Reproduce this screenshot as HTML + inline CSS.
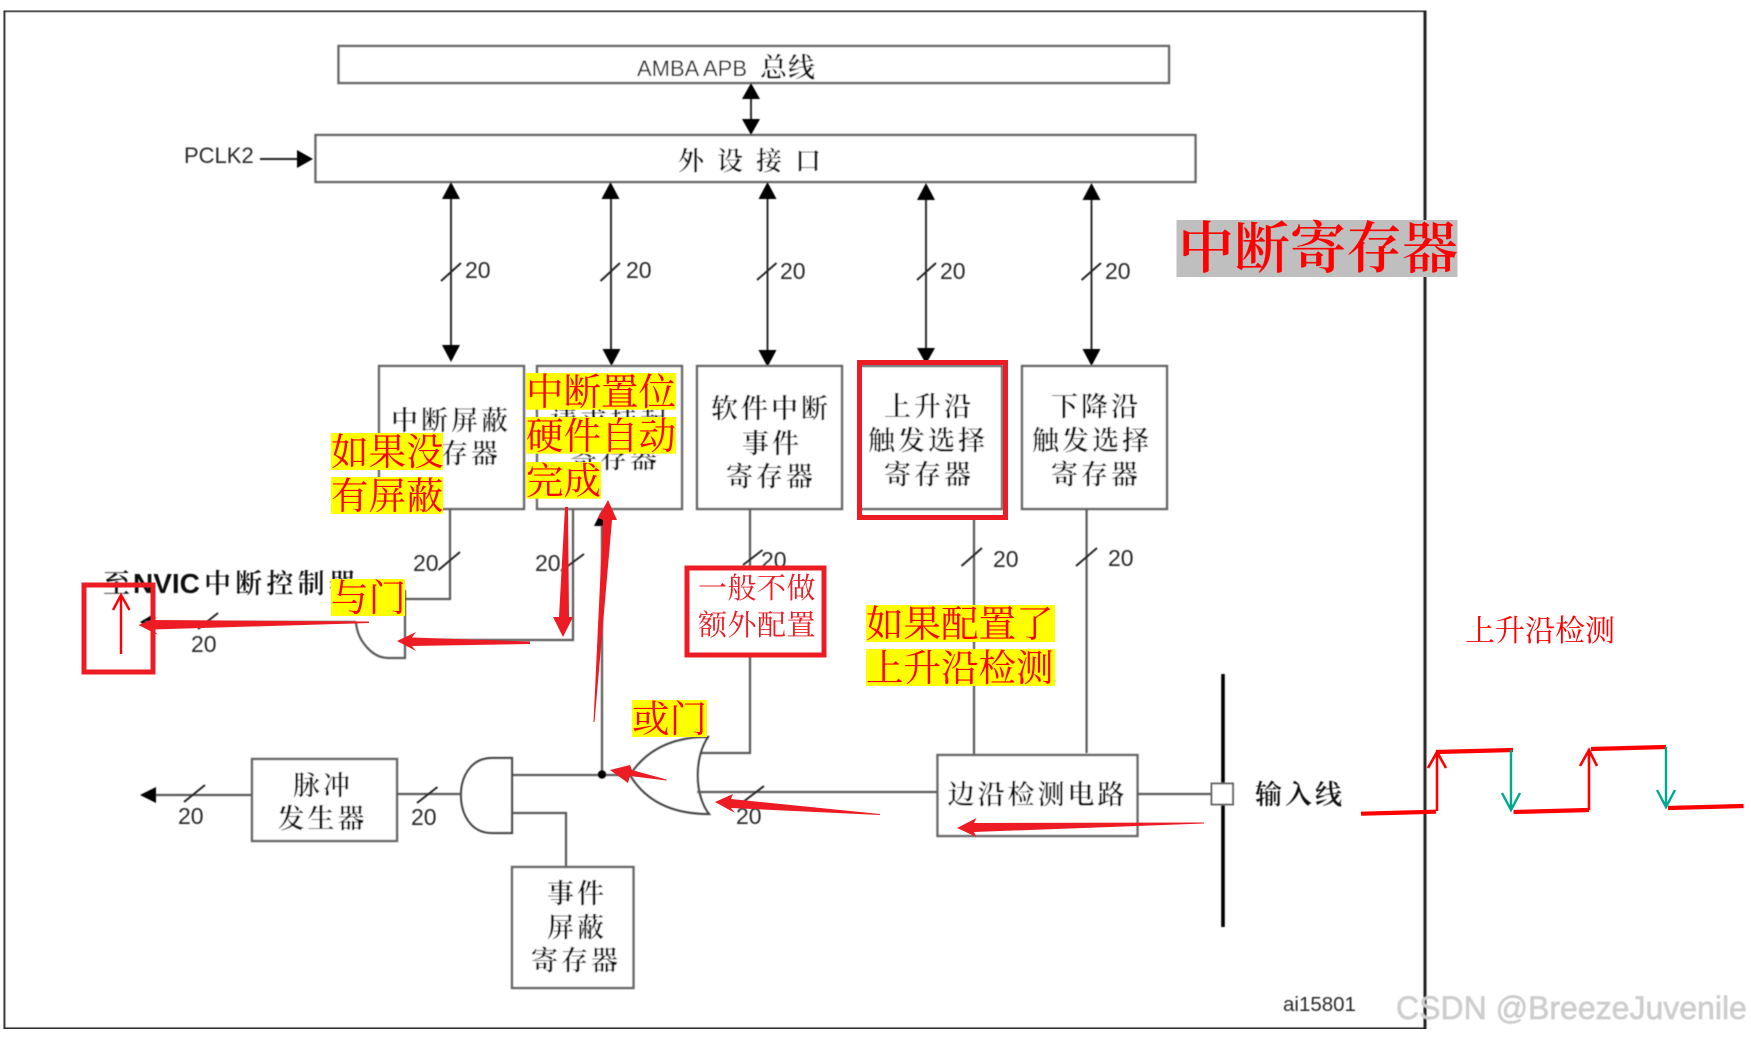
<!DOCTYPE html>
<html><head><meta charset="utf-8">
<style>
html,body{margin:0;padding:0;background:#fff;width:1751px;height:1037px;overflow:hidden}
svg{display:block}
.l{font-family:"Liberation Sans",sans-serif;fill:#2a2a2a}
.c{font-family:"Liberation Serif","Noto Serif CJK SC",serif;fill:#111;font-size:27px;letter-spacing:3px;font-weight:600}
.y{font-family:"Liberation Serif","Noto Serif CJK SC",serif;fill:#f00;font-size:37.5px}
.n{font-family:"Liberation Sans",sans-serif;fill:#2a2a2a;font-size:23px}
.b{fill:#fff;stroke:#666;stroke-width:2.4}
.w{fill:none;stroke:#5a5a5a;stroke-width:2.2}
.s{fill:none;stroke:#222;stroke-width:1.9}
.h{fill:#000}
.r{fill:#ed1c24}
</style></head><body>
<svg width="1751" height="1037" viewBox="0 0 1751 1037" xmlns="http://www.w3.org/2000/svg">
<rect width="1751" height="1037" fill="#fff"/>
<g filter="url(#bl)">
<defs><filter id="bl" x="0" y="0" width="100%" height="100%"><feGaussianBlur stdDeviation="0.45"/></filter></defs>
<!-- frame -->
<path d="M3.800 1029V10.5H1425V1029Z" fill="none" stroke="#222" stroke-width="3"/>
<!-- top bars -->
<rect class="b" x="338.5" y="46" width="830.5" height="37"/>
<text class="l" x="637" y="76" font-size="22" textLength="110" lengthAdjust="spacingAndGlyphs">AMBA APB</text>
<text class="c" x="760" y="77" style="letter-spacing:1px">总线</text>
<rect class="b" x="315.5" y="135" width="880" height="47"/>
<text class="c" x="678" y="170" style="font-size:26px;letter-spacing:13px">外设接口</text>
<text class="l" x="184" y="163" font-size="22">PCLK2</text>
<path class="s" d="M260 159H298"/>
<path class="h" d="M297 150L313 159L297 168Z"/>
<!-- bus arrows -->
<path class="s" d="M751 95V122"/>
<path class="h" d="M751 83L760 99H742ZM751 135L760 119H742Z"/>
<path class="s" d="M451 190V350M611 190V352M767.5 190V352M926 190V352M1091.5 190V352"/>
<path class="h" d="M451 182L460 199H442ZM451 362L460 345H442ZM610.5 182L619.5 199H601.5ZM611.5 366L620.5 349H602.5ZM767.5 182L776.5 199H758.5ZM767.5 367L776.5 350H758.5ZM926 183L935 200H917ZM926 364L935 348H917ZM1091.5 183L1100.5 200H1082.5ZM1091.5 366L1100.5 349H1082.5Z"/>
<path class="s" d="M441 281L461 263M600.5 281L620 263M757 280L776.5 263M917 280L936 263M1081.6 280L1101 263"/>
<text class="n" x="465" y="278">20</text>
<text class="n" x="626" y="278">20</text>
<text class="n" x="780" y="279">20</text>
<text class="n" x="940" y="279">20</text>
<text class="n" x="1105" y="279">20</text>
<!-- register boxes -->
<rect class="b" x="379" y="366" width="145" height="143"/>
<rect class="b" x="537" y="366" width="145" height="143"/>
<rect class="b" x="697" y="366" width="145" height="143"/>
<rect class="b" x="859" y="366" width="143" height="143"/>
<rect class="b" x="1022" y="366" width="145" height="143"/>
<text class="c" x="391" y="430">中断屏蔽</text>
<text class="c" x="411" y="463">寄存器</text>
<text class="c" x="550" y="430">请求挂起</text>
<text class="c" x="570" y="468">寄存器</text>
<text class="c" x="711" y="418">软件中断</text>
<text class="c" x="742" y="453">事件</text>
<text class="c" x="726" y="486">寄存器</text>
<text class="c" x="884" y="416">上升沿</text>
<text class="c" x="868" y="450">触发选择</text>
<text class="c" x="884" y="484">寄存器</text>
<text class="c" x="1051" y="416">下降沿</text>
<text class="c" x="1032" y="450">触发选择</text>
<text class="c" x="1051" y="484">寄存器</text>
<!-- NVIC -->
<text class="c" x="103" y="593">至</text>
<text class="l" x="133" y="593" font-size="28" font-weight="bold" style="fill:#111">NVIC</text>
<text class="c" x="204" y="593" style="letter-spacing:4.2px">中断控制器</text>
<path class="h" d="M140 622L152 615V630Z"/>
<path class="w" d="M356 622H145"/>
<path class="s" d="M198 629L218 613"/>
<text class="n" x="191" y="652">20</text>
<!-- AND gate top -->
<path class="w" d="M450 509V599H405M573 509V640H405M405 590V658H388C372 658 357 640 356 622"/>
<path class="s" d="M438.5 570L460 552M561 571L584 554"/>
<text class="n" x="413" y="571">20</text>
<text class="n" x="535" y="571">20</text>
<!-- central wires -->
<path class="w" d="M602 520V775M512 775H630"/>
<path class="h" d="M602 510L610 526H594Z"/>
<circle cx="602" cy="774.5" r="4.2" fill="#000"/>
<path class="w" d="M750 509V753H701M974 517V755M1086.6 509V753"/>
<path class="s" d="M743 565L762.5 550M961.5 566L982 548M1076 566L1097 548"/>
<text class="n" x="761" y="568">20</text>
<text class="n" x="993" y="567">20</text>
<text class="n" x="1108" y="566">20</text>
<!-- OR gate -->
<path d="M708 737C670 737 645 752 630 775C645 800 670 814 709 814C694 795 694 757 708 737Z" fill="#fff" stroke="#444" stroke-width="2.2"/>
<path class="w" d="M697 792H937"/>
<path class="s" d="M743 802L764 786"/>
<text class="n" x="736" y="824">20</text>
<!-- edge box / input -->
<rect class="b" x="937.5" y="755" width="200" height="81"/>
<text class="c" x="947.5" y="804">边沿检测电路</text>
<path class="w" d="M1137 794H1211"/>
<path d="M1223 674V927" stroke="#000" stroke-width="3.6" fill="none"/>
<rect x="1211.5" y="783.5" width="21.5" height="21" fill="#fff" stroke="#666" stroke-width="2"/>
<text class="c" x="1255" y="804">输入线</text>
<!-- AND gate lower, pulse -->
<path d="M512 758H492C470 758 461 778 461 795C461 813 470 833 492 833H512Z" fill="#fff" stroke="#444" stroke-width="2.2"/>
<path class="w" d="M512 813H566V867"/>
<rect class="b" x="512" y="867" width="121.5" height="121"/>
<text class="c" x="547" y="903">事件</text>
<text class="c" x="547" y="937">屏蔽</text>
<text class="c" x="531" y="970">寄存器</text>
<rect class="b" x="252" y="759" width="145" height="82"/>
<text class="c" x="293" y="795">脉冲</text>
<text class="c" x="277.5" y="828">发生器</text>
<path class="w" d="M397 794H461M251 795H150"/>
<path class="h" d="M140 795L156 787V803Z"/>
<path class="s" d="M417 803L437.5 787M184 802L205 785"/>
<text class="n" x="411" y="825">20</text>
<text class="n" x="178" y="824">20</text>
<text class="l" x="1283" y="1011" font-size="20.5">ai15801</text>
<text class="l" x="1396" y="1019" font-size="32" style="fill:#cfcfcf;stroke:#bdbdbd;stroke-width:.4">CSDN @BreezeJuvenile</text>
</g>
<!-- title -->
<rect x="1176.5" y="220" width="281" height="57" fill="#bfbfbf"/>
<text x="1178" y="268" font-family="'Liberation Serif','Noto Serif CJK SC',serif" font-size="56" font-weight="600" fill="#f00">中断寄存器</text>
<!-- red boxes -->
<rect x="859.5" y="362.500" width="146" height="155" fill="none" stroke="#ed1c24" stroke-width="5"/>
<rect x="687" y="568" width="137" height="87" fill="#fff" stroke="#ed1c24" stroke-width="5"/>
<text x="698" y="598" font-family="'Liberation Serif','Noto Serif CJK SC',serif" font-size="29" style="letter-spacing:.5px" fill="#ed1c24">一般不做</text>
<text x="698" y="635" font-family="'Liberation Serif','Noto Serif CJK SC',serif" font-size="29" style="letter-spacing:.5px" fill="#ed1c24">额外配置</text>
<rect x="84" y="585" width="69" height="87" fill="none" stroke="#ed1c24" stroke-width="5"/>
<path d="M121 654V596M113 610L121 595L129.500 610" fill="none" stroke="#f00" stroke-width="2.4"/>
<!-- yellow labels -->
<g fill="#ff0">
<rect x="526" y="373" width="150" height="36.700"/>
<rect x="526" y="417" width="150" height="36.700"/>
<rect x="526" y="462" width="75" height="36.700"/>
<rect x="331" y="433" width="112" height="37"/>
<rect x="331" y="477" width="112" height="37"/>
<rect x="331" y="579" width="74" height="37"/>
<rect x="632" y="700" width="75" height="37"/>
<rect x="866" y="605" width="189" height="37"/>
<rect x="866" y="649" width="189" height="37"/>
</g>
<text class="y" x="526" y="405">中断置位</text>
<text class="y" x="526" y="449">硬件自动</text>
<text class="y" x="526" y="494">完成</text>
<text class="y" x="331" y="465">如果没</text>
<text class="y" x="331" y="509">有屏蔽</text>
<text class="y" x="331" y="611">与门</text>
<text class="y" x="632" y="732">或门</text>
<text class="y" x="866" y="637">如果配置了</text>
<text class="y" x="866" y="681">上升沿检测</text>
<text x="1465" y="641" font-family="'Liberation Serif','Noto Serif CJK SC',serif" font-size="30" fill="#f00">上升沿检测</text>
<!-- tapered red arrows -->
<polygon class="r" points="369,621.500 153,620 158,617 138.500,625 158,635 153,629.500 369,623"/>
<polygon class="r" points="530,641.500 412,637.500 416,632 397,641 416,651 412,646 530,644"/>
<polygon class="r" points="565,507 559,617 553,617 563,637 573,617 569,617 568,507"/>
<polygon class="r" points="593.500,722 603,520 598,518 608,500 617,520 612,520 594.500,722"/>
<polygon class="r" points="666.500,779.500 632,770 630,765 610,770 628,783 630,776 666.500,780.500"/>
<polygon class="r" points="880,814 731,799 733,794 715,802 735,813 731,808 880,815"/>
<polygon class="r" points="1204,822.500 974,823 976.500,818 957,828 976.500,837 974,832 1204,823.500"/>
<!-- waveform -->
<g fill="none" stroke="#f00">
<path stroke-width="4.2" d="M1361 813.700L1436 811.700M1436 752L1513 750M1513.500 812L1589 810M1591 749L1666 747M1668 808L1743.600 806"/>
<path stroke-width="2.6" d="M1437 811V753M1428 768L1437 752L1446 768M1589 810V751M1580 766L1589 750L1597 766"/>
</g>
<path fill="none" stroke="#00a88f" stroke-width="2.4" d="M1511 750V809M1502 793L1511 810L1520 793M1666 747V806M1657 790L1666 807L1675 790"/>
</svg>
</body></html>
